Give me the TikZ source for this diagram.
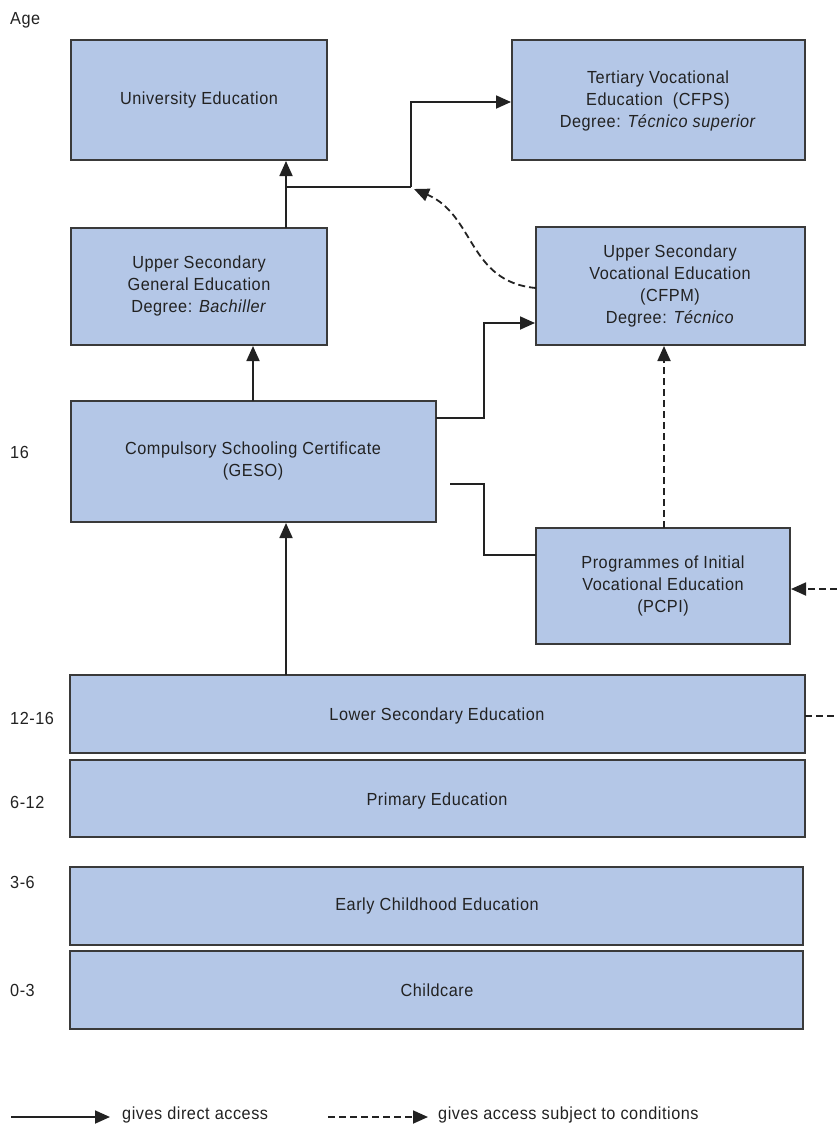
\documentclass[tikz,border=0pt]{standalone}
\usepackage{fontspec}
\setmainfont{Liberation Sans}[FakeStretch=0.93, LetterSpace=3]
\usetikzlibrary{arrows.meta}
\definecolor{boxfill}{HTML}{B4C7E7}
\definecolor{boxline}{HTML}{3A3A3A}
\definecolor{ink}{HTML}{222222}
\begin{document}
\begin{tikzpicture}[x=1pt,y=-1pt,
  every node/.style={font=\fontsize{17.5}{22}\selectfont, text=ink},
  eb/.style={draw=boxline, line width=1.5pt, fill=boxfill},
  lbl/.style={align=center, inner sep=0pt},
  age/.style={anchor=west, inner sep=0pt},
  con/.style={draw=ink, line width=1.8pt, -{Triangle[length=15pt,width=13pt]}},
  dcon/.style={con, dash pattern=on 7pt off 4pt},
  plain/.style={draw=ink, line width=1.8pt}]
\useasboundingbox (0,0) rectangle (837,1128);
% boxes
\path[eb] (71,40) rectangle (327,160);
\node[lbl] (univ) at (199,100) {University Education};
\path[eb] (512,40) rectangle (805,160);
\node[lbl] (tert) at (658,101) {Tertiary Vocational\\Education\ \ (CFPS)\\Degree: \textit{Técnico superior}};
\path[eb] (71,228) rectangle (327,345);
\node[lbl] (usg) at (199,286) {Upper Secondary\\General Education\\Degree: \textit{Bachiller}};
\path[eb] (536,227) rectangle (805,345);
\node[lbl] (usv) at (670,286) {Upper Secondary\\Vocational Education\\(CFPM)\\Degree: \textit{Técnico}};
\path[eb] (71,401) rectangle (436,522);
\node[lbl] (geso) at (253,461) {Compulsory Schooling Certificate\\(GESO)};
\path[eb] (536,528) rectangle (790,644);
\node[lbl] (pcpi) at (663,586) {Programmes of Initial\\Vocational Education\\(PCPI)};
\path[eb] (70,675) rectangle (805,753);
\node[lbl] (lse) at (437,716) {Lower Secondary Education};
\path[eb] (70,760) rectangle (805,837);
\node[lbl] (prim) at (437,801) {Primary Education};
\path[eb] (70,867) rectangle (803,945);
\node[lbl] (ece) at (437,906) {Early Childhood Education};
\path[eb] (70,951) rectangle (803,1029);
\node[lbl] (cc) at (437,990) {Childcare};
% ages
\node[age] (a0) at (10,20) {Age};
\node[age] (a1) at (10,452) {16};
\node[age] (a2) at (10,718) {12-16};
\node[age] (a3) at (10,802) {6-12};
\node[age] (a4) at (10,882) {3-6};
\node[age] (a5) at (10,990) {0-3};
% coordinates
\coordinate (j1) at (286,187);
\coordinate (j2) at (411,187);
\coordinate (rt) at (837,589);
\coordinate (rl) at (837,716);
% connectors
\draw[con] (286,228) -- (286,161);
\draw[plain] (j1) -- (j2);
\draw[con] (j2) |- (511,102);
\draw[dcon] (536,288) .. controls (468,282) and (475,215) .. (414,189);
\draw[con] (253,401) -- (253,346);
\draw[con] (436,418) -| (484,323) -- (535,323);
\draw[plain] (450,484) -| (484,555) -- (536,555);
\draw[dcon] (664,528) -- (664,346);
\draw[dcon] (rt) -- (791,589);
\draw[plain, dash pattern=on 7pt off 4pt] (805,716) -- (rl);
\draw[con] (286,675) -- (286,523);
% legend
\coordinate (l1a) at (11,1117);
\coordinate (l1b) at (110,1117);
\coordinate (l2a) at (328,1117);
\coordinate (l2b) at (428,1117);
\draw[con] (l1a) -- (l1b);
\node[age] (lg1) at (122,1115) {gives direct access};
\draw[dcon] (l2a) -- (l2b);
\node[age] (lg2) at (438,1115) {gives access subject to conditions};
\end{tikzpicture}
\end{document}
